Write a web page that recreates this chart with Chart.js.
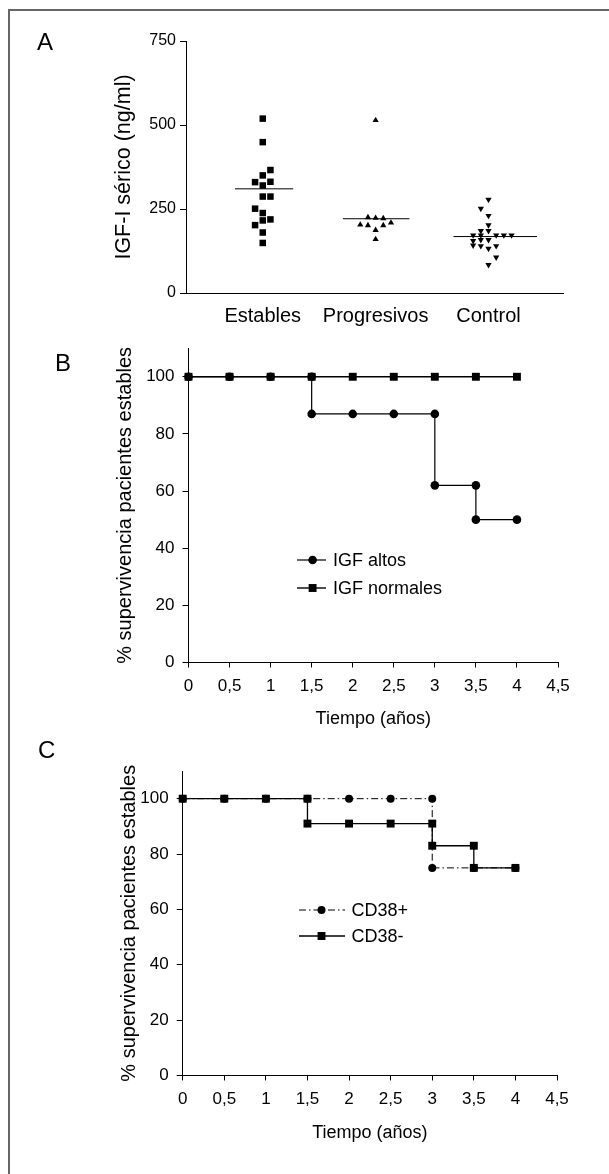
<!DOCTYPE html>
<html><head><meta charset="utf-8">
<script src="https://cdn.jsdelivr.net/npm/chart.js@4.4.1/dist/chart.umd.min.js"></script>
<style>
html,body{margin:0;padding:0;background:#fff;width:609px;height:1174px;overflow:hidden;font-family:"Liberation Sans",Arial,sans-serif;}
.frame{position:absolute;left:8px;top:9px;width:800px;height:1400px;border:2px solid #666;box-sizing:border-box;}
.box{position:absolute;left:0;width:609px;}
.letter{position:absolute;font-size:24px;line-height:24px;color:#000;}
</style></head><body>
<div class="frame"></div>
<div class="box" style="top:0;height:330px"><canvas id="cA"></canvas></div>
<div class="box" style="top:330px;height:400px"><canvas id="cB"></canvas></div>
<div class="box" style="top:730px;height:444px"><canvas id="cC"></canvas></div>
<div class="letter" style="left:37px;top:30px">A</div>
<div class="letter" style="left:55px;top:351px">B</div>
<div class="letter" style="left:38px;top:738px">C</div>
<script>
// ---------- Panel A data ----------
const categories = ['Estables', 'Progresivos', 'Control'];
const aTicks = [0, 250, 500, 750];
const establesValues = [519, 449, 366, 350, 330, 331, 320, 287, 287, 251, 238, 216, 219, 202, 180, 149];
const establesJitter = [0, 0, 1, 0, -1, 1, 0, 0, 1, -1, 0, 0, 1, -1, 0, 0];
const progresivosValues = [514, 225, 223, 222, 203, 201, 201, 209, 187, 160];
const progresivosJitter = [0, -1, 0, 1, -2, -1, 1, 2, 0, 0];
const controlValues = [278, 251, 230, 202, 185, 185, 172, 172, 172, 172, 172, 155, 158, 158, 142, 140, 140, 132, 106, 84];
const controlJitter = [0, -1, 0, 0, -1, 0, -2, -1, 1, 2, 3, -2, -1, 0, -2, -1, 1, 0, 1, 0];
const meanLines = [310, 221, 168];

// ---------- Panel B data ----------
const timeTicks = [0, 0.5, 1, 1.5, 2, 2.5, 3, 3.5, 4, 4.5];
const survTicks = [0, 20, 40, 60, 80, 100];
const igfAltosT = [0, 0.5, 1, 1.5, 1.5, 2, 2.5, 3, 3, 3.5, 3.5, 4];
const igfAltosS = [100, 100, 100, 100, 87, 87, 87, 87, 62, 62, 50, 50];
const igfNormT = [0, 0.5, 1, 1.5, 2, 2.5, 3, 3.5, 4];
const igfNormS = [100, 100, 100, 100, 100, 100, 100, 100, 100];

// ---------- Panel C data ----------
const cd38PosT = [0, 0.5, 1, 1.5, 2, 2.5, 3, 3, 3.5, 4];
const cd38PosS = [100, 100, 100, 100, 100, 100, 100, 75, 75, 75];
const cd38NegT = [0, 0.5, 1, 1.5, 1.5, 2, 2.5, 3, 3, 3.5, 3.5, 4];
const cd38NegS = [100, 100, 100, 100, 91, 91, 91, 91, 83, 83, 75, 75];

// ---------- helpers ----------
const FONT = '"Liberation Sans", Arial, sans-serif';
Chart.defaults.font.family = FONT;
Chart.defaults.color = '#000';
const JIT = 0.068;
const pts = (xs, ys) => xs.map((x, i) => ({x: x, y: ys[i]}));
const group = (cat, vals, jit) => vals.map((v, i) => ({x: cat + jit[i] * JIT, y: v}));
const meanSeg = (cat, v, a, b) => [{x: cat - a, y: v}, {x: cat + b, y: v}];
const comma = v => String(v).replace('.', ',');

const baseOpts = (pad) => ({
  responsive: true, maintainAspectRatio: false, devicePixelRatio: 1, animation: false,
  layout: {padding: pad},
  plugins: {legend: {display: false}, tooltip: {enabled: false}},
});

// ---------- Chart A ----------
new Chart(document.getElementById('cA'), {
  type: 'scatter',
  data: {datasets: [
    {data: group(1, establesValues, establesJitter), pointStyle: 'rect', pointRadius: 4.6, backgroundColor: '#000', borderWidth: 0},
    {data: group(2, progresivosValues, progresivosJitter), pointStyle: 'triangle', pointRadius: 3.6, backgroundColor: '#000', borderWidth: 0},
    {data: group(3, controlValues, controlJitter), pointStyle: 'triangle', rotation: 180, pointRadius: 3.6, backgroundColor: '#000', borderWidth: 0},
    {data: meanSeg(1, meanLines[0], 0.246, 0.27), showLine: true, borderColor: '#000', borderWidth: 1, pointRadius: 0},
    {data: meanSeg(2, meanLines[1], 0.29, 0.30), showLine: true, borderColor: '#000', borderWidth: 1, pointRadius: 0},
    {data: meanSeg(3, meanLines[2], 0.31, 0.43), showLine: true, borderColor: '#000', borderWidth: 1, pointRadius: 0}
  ]},
  options: Object.assign(baseOpts({top: 41, right: 46, left: 0, bottom: 0}), {
    clip: false,
    scales: {
      x: {type: 'linear', min: 0.32, max: 3.66,
        afterBuildTicks: s => { s.ticks = [1, 2, 3].map(v => ({value: v})); },
        ticks: {callback: v => categories[v - 1], font: {size: 20}, padding: 11, maxRotation: 0, autoSkip: false},
        grid: {display: true, drawOnChartArea: false, drawTicks: false, color: '#000'},
        border: {display: true, color: '#000', width: 1},
        afterFit: s => { s.height = 37; }},
      y: {min: 0, max: 750,
        afterBuildTicks: s => { s.ticks = aTicks.map(v => ({value: v})); },
        ticks: {font: {size: 16}, padding: 4},
        grid: {drawOnChartArea: false, tickLength: 6, color: '#000'},
        border: {display: true, color: '#000', width: 1},
        title: {display: true, text: 'IGF-I sérico (ng/ml)', font: {size: 21.5}, padding: {top: 111, bottom: 0}},
        afterFit: s => { s.width = 186; }}
    }
  })
});

// ---------- legend plugin ----------
function legendPlugin(items) {
  return {id: 'inlegend', afterDraw(chart) {
    const ctx = chart.ctx;
    items.forEach(it => {
      const ds = chart.data.datasets[it.ds];
      ctx.save();
      ctx.strokeStyle = '#000'; ctx.fillStyle = '#000';
      ctx.lineWidth = ds.borderWidth;
      ctx.setLineDash(ds.borderDash || []);
      ctx.beginPath(); ctx.moveTo(it.x0, it.y); ctx.lineTo(it.x1, it.y); ctx.stroke();
      ctx.setLineDash([]);
      ctx.beginPath();
      if (ds.pointStyle === 'rect') {
        const h = ds.pointRadius * Math.SQRT1_2;
        ctx.rect(it.mx - h, it.y - h, 2 * h, 2 * h);
      } else {
        ctx.arc(it.mx, it.y, ds.pointRadius, 0, Math.PI * 2);
      }
      ctx.fill();
      ctx.font = '18px ' + FONT;
      ctx.textBaseline = 'middle'; ctx.textAlign = 'left';
      ctx.fillText(ds.label, it.tx, it.y + 1);
      ctx.restore();
    });
  }};
}

const survScales = (yWidth, xHeight, yTitlePad, xTitlePad) => ({
  x: {type: 'linear', min: 0, max: 4.5,
    afterBuildTicks: s => { s.ticks = timeTicks.map(v => ({value: v})); },
    ticks: {callback: v => comma(v), font: {size: 17}, padding: 9, maxRotation: 0, autoSkip: false},
    grid: {drawOnChartArea: false, tickLength: 5, color: '#000'},
    border: {display: true, color: '#000', width: 1},
    title: {display: true, text: 'Tiempo (años)', font: {size: 18}, padding: {top: 0, bottom: xTitlePad}},
    afterFit: s => { s.height = xHeight; }},
  y: {min: 0, max: 110,
    afterBuildTicks: s => { s.ticks = survTicks.map(v => ({value: v})); },
    ticks: {font: {size: 17}, padding: 8},
    grid: {drawOnChartArea: false, tickLength: 6, color: '#000'},
    border: {display: true, color: '#000', width: 1},
    title: {display: true, text: '% supervivencia pacientes estables', font: {size: 20}, padding: {top: yTitlePad, bottom: 0}},
    afterFit: s => { s.width = yWidth; }}
});

// ---------- Chart B ----------
new Chart(document.getElementById('cB'), {
  type: 'scatter',
  data: {datasets: [
    {label: 'IGF normales', data: pts(igfNormT, igfNormS), showLine: true, borderColor: '#000', borderWidth: 1.4, pointStyle: 'rect', pointRadius: 5.6, backgroundColor: '#000', pointBorderWidth: 0},
    {label: 'IGF altos', data: pts(igfAltosT, igfAltosS), showLine: true, borderColor: '#000', borderWidth: 1.2, pointStyle: 'circle', pointRadius: 4.3, backgroundColor: '#000', pointBorderWidth: 0}
  ]},
  options: Object.assign(baseOpts({top: 12, right: 51, left: 0, bottom: 0}), {
    clip: false,
    scales: survScales(188.5, 67.5, 113.5, 0)
  }),
  plugins: [legendPlugin([
    {ds: 1, x0: 297, x1: 326, mx: 312.6, tx: 333, y: 230},
    {ds: 0, x0: 297, x1: 326, mx: 312.6, tx: 333, y: 258}
  ])]
});

// ---------- Chart C ----------
new Chart(document.getElementById('cC'), {
  type: 'scatter',
  data: {datasets: [
    {label: 'CD38-', data: pts(cd38NegT, cd38NegS), showLine: true, borderColor: '#000', borderWidth: 1.3, pointStyle: 'rect', pointRadius: 5.6, backgroundColor: '#000', pointBorderWidth: 0},
    {label: 'CD38+', data: pts(cd38PosT, cd38PosS), showLine: true, borderColor: '#000', borderWidth: 1, borderDash: [7, 3, 1.5, 3], pointStyle: 'circle', pointRadius: 4, backgroundColor: '#000', pointBorderWidth: 0}
  ]},
  options: Object.assign(baseOpts({top: 41, right: 52, left: 0, bottom: 0}), {
    clip: false,
    scales: survScales(182.7, 98.5, 117, 30)
  }),
  plugins: [legendPlugin([
    {ds: 1, x0: 299, x1: 345, mx: 321.5, tx: 351.5, y: 180},
    {ds: 0, x0: 299, x1: 345, mx: 321.5, tx: 351.5, y: 206}
  ])]
});
</script>
</body></html>
